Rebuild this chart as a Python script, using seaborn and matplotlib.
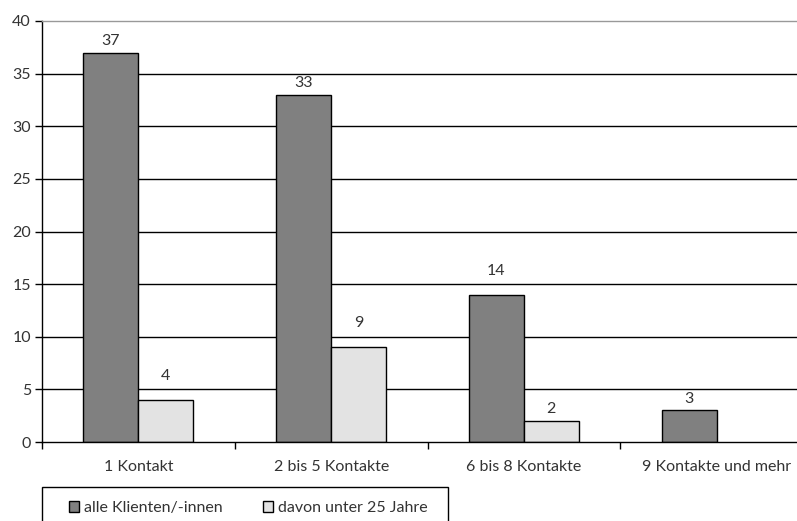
import matplotlib
matplotlib.use("Agg")
import matplotlib.pyplot as plt
import seaborn as sns
import pandas as pd
import numpy as np

categories = ["1 Kontakt", "2 bis 5 Kontakte", "6 bis 8 Kontakte", "9 Kontakte und mehr"]
series_names = ["alle Klienten/-innen", "davon unter 25 Jahre"]
alle = [37, 33, 14, 3]
unter25 = [4, 9, 2, None]
y_ticks = [0, 5, 10, 15, 20, 25, 30, 35, 40]

rows = []
for cat, a, u in zip(categories, alle, unter25):
    rows.append({"Kategorie": cat, "Gruppe": series_names[0], "Wert": a})
    if u is not None:
        rows.append({"Kategorie": cat, "Gruppe": series_names[1], "Wert": u})
df = pd.DataFrame(rows)

sns.set_theme(style="white")
plt.rcParams["font.family"] = ["Lato", "DejaVu Sans"]
text_color = "#333333"
fs = 11.5

W, H = 797, 521
fig = plt.figure(figsize=(W / 100, H / 100), dpi=100)
ax = fig.add_axes([42 / W, 1 - 442 / H, 771 / W, (442 - 21) / H])

palette = {series_names[0]: "#808080", series_names[1]: "#e3e3e3"}
sns.barplot(data=df, x="Kategorie", y="Wert", hue="Gruppe", order=categories,
            hue_order=series_names, palette=palette, width=0.57,
            edgecolor="black", linewidth=1.0, saturation=1, ax=ax, legend=False)

ax.set_ylim(0, 40)
ax.set_xlim(-0.5, len(categories) - 0.5)
ax.set_yticks(y_ticks)
ax.set_yticklabels([str(v) for v in y_ticks], color=text_color, fontsize=fs)
ax.set_xticks(range(len(categories)))
ax.set_xticklabels(categories, color=text_color, fontsize=fs)
ax.set_xlabel("")
ax.set_ylabel("")

# category boundary ticks on the x axis
ax.set_xticks(np.arange(-0.5, len(categories), 1.0), minor=True)
ax.tick_params(axis="x", which="major", length=0, pad=13)
ax.tick_params(axis="x", which="minor", length=5, width=1, color="black", direction="out", bottom=True)
ax.tick_params(axis="y", which="major", length=5, width=1, color="black", direction="out", left=True, pad=3)

# horizontal grid lines
for v in y_ticks[1:-1]:
    ax.axhline(v, color="black", linewidth=1.0, zorder=0)
ax.set_axisbelow(True)

for side in ["left", "bottom"]:
    ax.spines[side].set_color("black")
    ax.spines[side].set_linewidth(1.0)
ax.spines["top"].set_color("#999999")
ax.spines["top"].set_linewidth(1.0)
ax.spines["right"].set_visible(False)

# value labels above the bars, lifted clear of any grid line they would cross
label_h = 1.35   # approx. label height in data units
gap = 0.45
for container in ax.containers:
    for bar in container:
        v = bar.get_height()
        if np.isnan(v):
            continue
        base = v + gap
        for g in y_ticks[1:-1]:
            if base < g < base + label_h:
                base = g + 0.6
        ax.text(bar.get_x() + bar.get_width() / 2, base, f"{v:g}",
                ha="center", va="bottom", color=text_color, fontsize=fs)

# legend with its own box
handles = [plt.Rectangle((0, 0), 1, 1, facecolor=palette[n], edgecolor="black", linewidth=1.0)
           for n in series_names]
leg = fig.legend(handles, series_names, loc="center left",
                 bbox_to_anchor=(69 / W, 1 - 508 / H), ncol=2,
                 frameon=False, handlelength=0.65, handleheight=0.65,
                 handletextpad=0.3, columnspacing=2.5, borderpad=0,
                 borderaxespad=0, prop={"size": fs})
for t in leg.get_texts():
    t.set_color(text_color)
box = plt.Rectangle((42 / W, -0.01), (448 - 42) / W, (0.01 + 1 - 487 / H),
                    transform=fig.transFigure, facecolor="none",
                    edgecolor="black", linewidth=1.0)
fig.add_artist(box)

fig.savefig("out.png", dpi=100)
